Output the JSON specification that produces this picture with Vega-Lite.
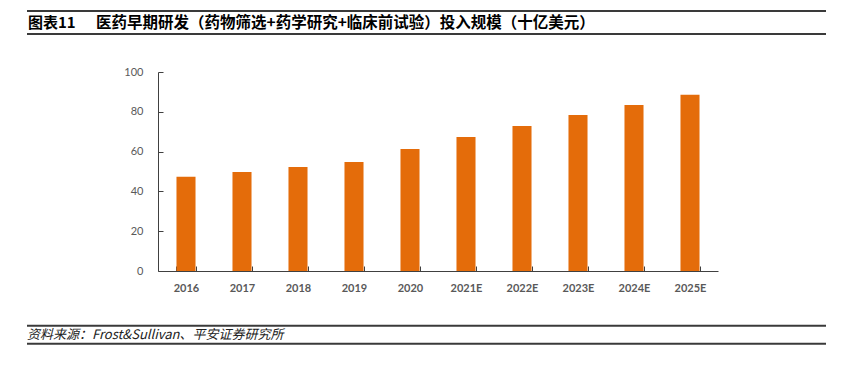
{
  "$schema": "https://vega.github.io/schema/vega-lite/v6.json",
  "width": 560,
  "height": 199,
  "autosize": {"type": "none"},
  "padding": {"left": 158, "top": 72, "right": 127, "bottom": 99},
  "background": "white",
  "config": {"view": {"stroke": null}, "font": "Lato"},
  "resolve": {"scale": {"x": "independent", "y": "independent"}, "axis": {"x": "independent", "y": "independent"}},
  "layer": [
    {
      "data": {
        "values": [
          {"year": "2016", "value": 47.3},
          {"year": "2017", "value": 49.7},
          {"year": "2018", "value": 52.3},
          {"year": "2019", "value": 54.8},
          {"year": "2020", "value": 61.3},
          {"year": "2021E", "value": 67.3},
          {"year": "2022E", "value": 72.9},
          {"year": "2023E", "value": 78.4},
          {"year": "2024E", "value": 83.4},
          {"year": "2025E", "value": 88.6}
        ]
      },
      "mark": {"type": "bar", "color": "#E46C0A"},
      "encoding": {
        "x": {
          "field": "year",
          "type": "ordinal",
          "sort": null,
          "scale": {"paddingInner": 0.66, "paddingOuter": 0.33},
          "axis": {
            "title": null,
            "labelAngle": 0,
            "labelFont": "Lato",
            "labelFontSize": 11,
            "labelFontWeight": "bold",
            "labelColor": "#595959",
            "labelOverlap": false,
            "tickBand": "extent",
            "tickSize": -5,
            "tickColor": "#404040",
            "domainColor": "#404040",
            "labelPadding": 16
          }
        },
        "y": {
          "field": "value",
          "type": "quantitative",
          "scale": {"domain": [0, 100]},
          "axis": {
            "title": null,
            "values": [0, 20, 40, 60, 80, 100],
            "grid": false,
            "labelOverlap": false,
            "labelFlush": false,
            "tickSize": -5,
            "tickColor": "#404040",
            "domainColor": "#404040",
            "labelFont": "Lato",
            "labelFontSize": 11,
            "labelColor": "#595959",
            "labelPadding": 20
          }
        }
      }
    },
    {
      "data": {"values": [{}]},
      "encoding": {
        "x": {"datum": 0, "type": "quantitative", "scale": {"domain": [0, 1], "range": [-131, 668]}, "axis": null}
      },
      "layer": [
        {"mark": {"type": "rule", "color": "#3a3a3a", "strokeWidth": 2}, "encoding": {"x2": {"datum": 1}, "y": {"datum": 130.65, "type": "quantitative", "scale": {"domain": [0, 100]}, "axis": null}}},
        {"mark": {"type": "rule", "color": "#3a3a3a", "strokeWidth": 2}, "encoding": {"x2": {"datum": 1}, "y": {"datum": 119.1, "type": "quantitative", "scale": {"domain": [0, 100]}, "axis": null}}},
        {"mark": {"type": "rule", "color": "#3a3a3a", "strokeWidth": 2}, "encoding": {"x2": {"datum": 1}, "y": {"datum": -27.5, "type": "quantitative", "scale": {"domain": [0, 100]}, "axis": null}}},
        {"mark": {"type": "rule", "color": "#3a3a3a", "strokeWidth": 2}, "encoding": {"x2": {"datum": 1}, "y": {"datum": -36.5, "type": "quantitative", "scale": {"domain": [0, 100]}, "axis": null}}},
        {
          "mark": {"type": "text", "align": "left", "baseline": "middle", "font": "Noto Sans CJK SC", "fontWeight": "bold", "fontSize": 15, "color": "#000000"},
          "encoding": {"x": {"datum": 0.00125, "type": "quantitative"}, "y": {"datum": 124.6, "type": "quantitative", "scale": {"domain": [0, 100]}, "axis": null}, "text": {"value": "图表11"}}
        },
        {
          "mark": {"type": "text", "align": "left", "baseline": "middle", "font": "Noto Sans CJK SC", "fontWeight": "bold", "fontSize": 15.5, "color": "#000000"},
          "encoding": {"x": {"datum": 0.0864, "type": "quantitative"}, "y": {"datum": 124.6, "type": "quantitative", "scale": {"domain": [0, 100]}, "axis": null}, "text": {"value": "医药早期研发（药物筛选+药学研究+临床前试验）投入规模（十亿美元）"}}
        },
        {
          "mark": {"type": "text", "align": "left", "baseline": "middle", "font": "Noto Sans CJK SC", "fontStyle": "italic", "fontSize": 13, "color": "#222222"},
          "encoding": {"x": {"datum": 0.0, "type": "quantitative"}, "y": {"datum": -32.0, "type": "quantitative", "scale": {"domain": [0, 100]}, "axis": null}, "text": {"value": "资料来源：Frost&Sullivan、平安证券研究所"}}
        }
      ]
    }
  ]
}
